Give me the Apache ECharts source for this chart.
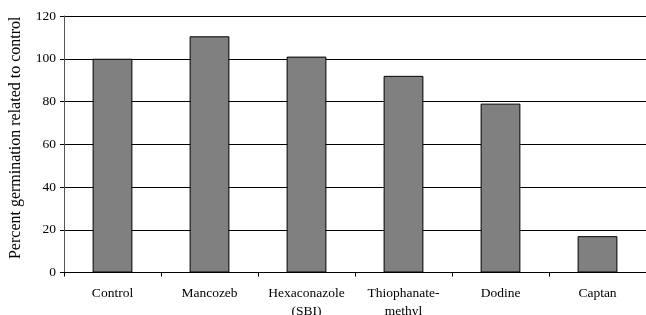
<!DOCTYPE html>
<html>
<head>
<meta charset="utf-8">
<script src="https://cdn.jsdelivr.net/npm/echarts@6/dist/echarts.min.js"></script>
<style>
html, body { margin: 0; padding: 0; background: #fff; overflow: hidden; }
#chart { width: 646px; height: 315px; }
</style>
</head>
<body>
<div id="chart"></div>
<script>
// fungicides on the x axis
var categories = ['Control', 'Mancozeb', 'Hexaconazole\n(SBI)', 'Thiophanate-\nmethyl', 'Dodine', 'Captan'];
// percent germination, control = 100
var germination = [100, 110.5, 101, 92, 79, 17];
var yTicks = [0, 20, 40, 60, 80, 100, 120];

var font = 'Liberation Serif';
var chart = echarts.init(document.getElementById('chart'));

chart.setOption({
	animation: false,
	grid: { left: 64, right: 0, top: 16, bottom: 42.5, outerBoundsMode: 'none', containLabel: false },
	xAxis: {
		type: 'category',
		data: categories,
		axisLine: { lineStyle: { color: '#000', width: 1 } },
		axisTick: { show: true, length: 4, lineStyle: { color: '#000' } },
		axisLabel: { interval: 0, color: '#000', fontFamily: font, fontSize: 13.5, margin: 11.5, lineHeight: 18.5 }
	},
	yAxis: {
		type: 'value',
		min: yTicks[0],
		max: yTicks[yTicks.length - 1],
		interval: 20,
		name: 'Percent germination related to control',
		nameLocation: 'middle',
		nameGap: 40,
		nameTextStyle: { color: '#000', fontFamily: font, fontSize: 16, padding: [0, 0, 0, 13] },
		axisLine: { show: true, lineStyle: { color: '#555', width: 1 } },
		axisTick: { show: true, length: 4, lineStyle: { color: '#000' } },
		axisLabel: { color: '#000', fontFamily: font, fontSize: 13.5, margin: 8 },
		splitLine: { lineStyle: { color: '#000', width: 1 } }
	},
	series: [{
		type: 'bar',
		data: germination,
		barWidth: '41%',
		itemStyle: { color: '#808080', borderColor: '#000', borderWidth: 1 }
	}]
});
</script>
</body>
</html>
